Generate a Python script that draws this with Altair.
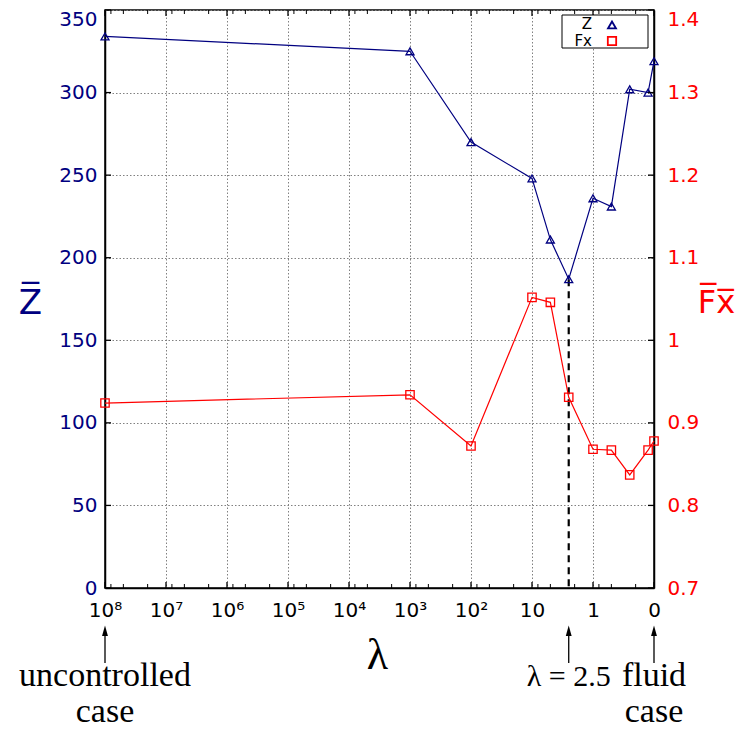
import json
import math
import altair as alt
import pandas as pd

# ---------------- data ----------------
lam_values = [1e8, 1e3, 1e2, 10, 5, 2.5, 1, 0.5, 0.25, 0.125, 0]
z_values = [334, 325, 270, 248, 211, 187, 236, 231, 302, 300, 319]
fx_values = [0.924, 0.934, 0.872, 1.052, 1.046, 0.931, 0.868, 0.867, 0.837, 0.867, 0.878]

x_tick_positions = [-8, -7, -6, -5, -4, -3, -2, -1, 0, 1]
x_tick_labels = ["10⁸", "10⁷", "10⁶", "10⁵", "10⁴", "10³", "10²", "10", "1", "0"]
minor_offsets = [0.097, 0.301, 0.699]
z_ticks = [0, 50, 100, 150, 200, 250, 300, 350]
fx_ticks = [0.7, 0.8, 0.9, 1.0, 1.1, 1.2, 1.3, 1.4]

marker_lam = 2.5
case_lam = [1e8, 0]
case_text = ["uncontrolled\ncase", "fluid\ncase"]
marker_text = "λ = 2.5"
legend_labels = ["Z", "Fx"]

NAVY = "#000080"
RED = "#ff0000"
W, H = 549, 578


def pos(l):
    return 1.0 if l == 0 else -math.log10(l)


df = pd.DataFrame({
    "lam": lam_values,
    "p": [pos(l) for l in lam_values],
    "Z": z_values,
    "Fx": fx_values,
})
arrow_df = pd.DataFrame({"p": [pos(l) for l in case_lam + [marker_lam]]})
case_df = pd.DataFrame({"p": [pos(l) for l in case_lam], "text": case_text})
marker_df = pd.DataFrame({"p": [pos(marker_lam)], "text": [marker_text]})
major_df = pd.DataFrame({"p": x_tick_positions})
minor_df = pd.DataFrame({"p": [d + o for d in range(-8, 1) for o in minor_offsets]})
zt_df = pd.DataFrame({"Z": z_ticks})
one = pd.DataFrame({"a": [0]})

label_expr = json.dumps(x_tick_labels, ensure_ascii=False) + "[round(datum.value) + 8]"

X = alt.X(
    "p:Q",
    scale=alt.Scale(domain=[-8, 1], nice=False, zero=False),
    axis=alt.Axis(
        values=x_tick_positions, labelExpr=label_expr, ticks=False, labelFlush=False,
        labelFont="DejaVu Sans", labelFontSize=20, labelColor="black", labelPadding=12,
        grid=True, gridColor="#808080", gridDash=[1.5, 2], gridWidth=1,
        domainColor="black", domainWidth=1.5,
        title="λ", titleFont="Liberation Serif", titleFontSize=44, titleFontWeight="normal",
        titleColor="black", titleX=272, titleY=80, titleBaseline="alphabetic", titleAlign="center",
    ),
)

YZ = alt.Y(
    "Z:Q",
    scale=alt.Scale(domain=[0, 350], nice=False, zero=False),
    axis=alt.Axis(
        values=z_ticks, format="d", orient="left", ticks=False, labelFlush=False,
        labelOffset={"condition": {"test": "datum.value >= 349", "value": 9}, "value": 0},
        labelFont="DejaVu Sans", labelFontSize=20, labelColor=NAVY, labelPadding=8,
        grid=True, gridColor="#808080", gridDash=[1.5, 2], gridWidth=1,
        domainColor="black", domainWidth=1.5,
        title="Z̅", titleFont="DejaVu Sans", titleFontSize=34, titleFontWeight="normal",
        titleColor=NAVY, titleAngle=0, titleX=-75, titleY=303,
        titleBaseline="alphabetic", titleAlign="center",
    ),
)

YF = alt.Y(
    "Fx:Q",
    scale=alt.Scale(domain=[0.7, 1.4], nice=False, zero=False),
    axis=alt.Axis(
        values=fx_ticks, format=".1~f", orient="right", ticks=False, labelFlush=False,
        labelOffset={"condition": {"test": "datum.value >= 1.39", "value": 9}, "value": 0},
        labelFont="DejaVu Sans", labelFontSize=20, labelColor=RED, labelPadding=13,
        grid=False, domainColor="black", domainWidth=1.5,
        title="F̅x̅", titleFont="DejaVu Sans", titleFontSize=32, titleFontWeight="normal",
        titleColor=RED, titleAngle=0, titleX=62, titleY=302,
        titleBaseline="alphabetic", titleAlign="center",
    ),
)

# ---------------- Z group (left axis) ----------------
base_z = alt.Chart(df)
z_line = base_z.mark_line(color=NAVY, strokeWidth=1.2).encode(x=X, y=YZ, order="p:Q")
z_pts = base_z.mark_point(shape="triangle-up", filled=False, color=NAVY, size=64,
                          strokeWidth=1.3, opacity=1).encode(x=X, y=YZ)
z_dash = base_z.transform_filter(alt.datum.lam == marker_lam).mark_rule(
    color="black", strokeWidth=2.2, strokeDash=[7, 5]
).encode(x=X, y=YZ, y2=alt.datum(0))
ytick_left = alt.Chart(zt_df).mark_rule(color="black", strokeWidth=1.3).encode(
    y=YZ, x=alt.value(0), x2=alt.value(6))
ytick_right = alt.Chart(zt_df).mark_rule(color="black", strokeWidth=1.3).encode(
    y=YZ, x=alt.value(W), x2=alt.value(W - 6))
z_group = alt.layer(z_dash, z_line, z_pts, ytick_left, ytick_right)

# ---------------- Fx group (right axis) ----------------
base_f = alt.Chart(df)
f_line = base_f.mark_line(color=RED, strokeWidth=1.2).encode(x=X, y=YF, order="p:Q")
f_pts = base_f.mark_point(shape="square", filled=False, color=RED, size=70,
                          strokeWidth=1.3, opacity=1).encode(x=X, y=YF)
f_group = alt.layer(f_line, f_pts)

# ---------------- x ticks (inward, bottom and top) ----------------
maj_b = alt.Chart(major_df).mark_rule(color="black", strokeWidth=1.3).encode(
    x=X, y=alt.value(H), y2=alt.value(H - 6))
maj_t = alt.Chart(major_df).mark_rule(color="black", strokeWidth=1.3).encode(
    x=X, y=alt.value(0), y2=alt.value(6))
min_b = alt.Chart(minor_df).mark_rule(color="black", strokeWidth=1).encode(
    x=X, y=alt.value(H), y2=alt.value(H - 4))
min_t = alt.Chart(minor_df).mark_rule(color="black", strokeWidth=1).encode(
    x=X, y=alt.value(0), y2=alt.value(4))

# ---------------- annotations below the axis ----------------
arrow_line = alt.Chart(arrow_df).mark_rule(color="black", strokeWidth=1.3).encode(
    x=X, y=alt.value(622), y2=alt.value(653))
arrow_head = alt.Chart(arrow_df).mark_point(
    shape="M0,-1L0.45,0.6L-0.45,0.6Z", filled=True, color="black", size=170, opacity=1
).encode(x=X, y=alt.value(622))
case_txt = alt.Chart(case_df).mark_text(
    font="Liberation Serif", fontSize=34, lineBreak="\n", lineHeight=36,
    baseline="alphabetic", align="center", color="black"
).encode(x=X, y=alt.value(676), text="text:N")
marker_txt = alt.Chart(marker_df).mark_text(
    font="Liberation Serif", fontSize=30, baseline="alphabetic", align="center", color="black"
).encode(x=X, y=alt.value(676), text="text:N")

# ---------------- legend box ----------------
leg_box = alt.Chart(one).mark_rect(fill="white", stroke="black", strokeWidth=1).encode(
    x=alt.value(457), x2=alt.value(543), y=alt.value(5), y2=alt.value(38))
leg_z_txt = alt.Chart(one).mark_text(font="DejaVu Sans", fontSize=15, align="right",
                                     baseline="middle", color="black").encode(
    x=alt.value(487), y=alt.value(14), text=alt.value(legend_labels[0]))
leg_f_txt = alt.Chart(one).mark_text(font="DejaVu Sans", fontSize=15, align="right",
                                     baseline="middle", color="black").encode(
    x=alt.value(487), y=alt.value(31), text=alt.value(legend_labels[1]))
leg_z_pt = alt.Chart(one).mark_point(shape="triangle-up", filled=False, color=NAVY, size=64,
                                     strokeWidth=1.8, opacity=1).encode(
    x=alt.value(507), y=alt.value(15))
leg_f_pt = alt.Chart(one).mark_point(shape="square", filled=False, color=RED, size=70,
                                     strokeWidth=1.8, opacity=1).encode(
    x=alt.value(507), y=alt.value(31))

chart = alt.layer(
    z_group, f_group, maj_b, maj_t, min_b, min_t,
    arrow_line, arrow_head, case_txt, marker_txt,
    leg_box, leg_z_txt, leg_f_txt, leg_z_pt, leg_f_pt,
).resolve_scale(y="independent").properties(
    width=W, height=H,
    autosize=alt.AutoSizeParams(type="none"),
    padding={"left": 97, "top": 2, "right": 82, "bottom": 142},
).configure_view(stroke="black", strokeWidth=1.5)

chart.save("out.html", embed_options={"renderer": "svg", "actions": False})
